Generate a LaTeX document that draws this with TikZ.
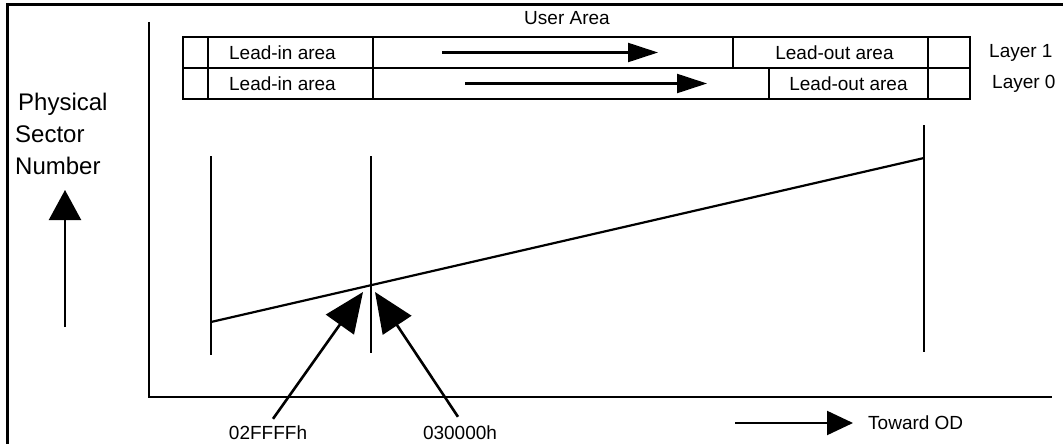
\documentclass[tikz,border=0pt]{standalone}
\usepackage{fontspec}
\setmainfont{Liberation Sans}
\usetikzlibrary{arrows.meta}
\begin{document}
\begin{tikzpicture}[x=1pt,y=-1pt,
  ln/.style={line width=2.2pt},
  cell/.style={draw,line width=2.2pt,inner sep=0pt,outer sep=0pt,anchor=west,minimum height=31pt,font=\fontsize{19}{20}\selectfont},
  lbl/.style={inner sep=0pt,font=\fontsize{19}{20}\selectfont},
  big/.style={inner sep=0pt,font=\fontsize{24}{32}\selectfont,align=left},
  rowarrow/.style={line width=2.2pt,-{Triangle[length=30pt,width=19pt]}},
  uparrow/.style={line width=2.2pt,-{Triangle[length=30pt,width=32pt]}},
  diag/.style={line width=2.6pt,-{Triangle[length=40pt,width=34pt]}},
  odarrow/.style={line width=2.2pt,-{Triangle[length=26pt,width=24pt]}}]
\useasboundingbox (0,0) rectangle (1063,444);
% frame
\draw[line width=3pt] (7,444) -- (7,5) -- (1063,5);
% axes
\coordinate (ytop) at (149,22);
\coordinate (origin) at (149,397);
\coordinate (xend) at (1052,397);
\draw[ln] (ytop) -- (origin) -- (xend);
% title
\node[lbl] (ua) at (567,18) {User Area};
% Layer 1 row
\node[cell,minimum width=25pt] (a1) at (183,52.5) {};
\node[cell,minimum width=165pt] (b1) at (208,52.5) {Lead-in area\hspace*{16pt}};
\node[cell,minimum width=360pt] (c1) at (373,52.5) {};
\node[cell,minimum width=195pt] (d1) at (733,52.5) {\hspace*{8pt}Lead-out area};
\node[cell,minimum width=42pt] (e1) at (928,52.5) {};
% Layer 0 row
\node[cell,minimum width=25pt] (a0) at (183,83.5) {};
\node[cell,minimum width=165pt] (b0) at (208,83.5) {Lead-in area\hspace*{16pt}};
\node[cell,minimum width=396pt] (c0) at (373,83.5) {};
\node[cell,minimum width=159pt] (d0) at (769,83.5) {Lead-out area};
\node[cell,minimum width=42pt] (e0) at (928,83.5) {};
\node[lbl,anchor=west] (l1) at (989,52.5) {Layer 1};
\node[lbl,anchor=west] (l0) at (992,84) {Layer 0};
% row arrows
\coordinate (r1s) at (442,52.5); \coordinate (r1e) at (658,52.5);
\coordinate (r0s) at (465,83.5); \coordinate (r0e) at (707,83.5);
\draw[rowarrow] (r1s) -- (r1e);
\draw[rowarrow] (r0s) -- (r0e);
% vertical lines
\coordinate (v1t) at (211,156); \coordinate (v1b) at (211,355);
\coordinate (v2t) at (371,156); \coordinate (v2b) at (371,353);
\coordinate (v3t) at (924,125); \coordinate (v3b) at (924,352);
\draw[ln] (v1t) -- (v1b);
\draw[ln] (v2t) -- (v2b);
\draw[ln] (v3t) -- (v3b);
% sloped line
\coordinate (p1) at (211,322); \coordinate (p2) at (924,158);
\draw[ln] (p1) -- (p2);
% physical sector number
\node[big,anchor=north west] (psn) at (15,93) {\hspace*{3pt}Physical\\Sector\\Number};
\coordinate (us) at (65,327); \coordinate (ue) at (65,190);
\draw[uparrow] (us) -- (ue);
% address labels
\node[lbl] (n1) at (268,433) {02FFFFh};
\node[lbl] (n2) at (460,433) {030000h};
\coordinate (t1) at (363,292); \coordinate (t2) at (375,292);
\draw[diag] (n1.north) ++(5,-7) coordinate (s1) (s1) -- (t1);
\draw[diag] (n2.north) ++(-2,-9) coordinate (s2) (s2) -- (t2);
% toward OD
\node[lbl,anchor=west] (od) at (868,423) {Toward OD};
\coordinate (os) at (735,423);
\draw[odarrow] (os) -- ([xshift=-15pt]od.west);
\end{tikzpicture}
\end{document}
